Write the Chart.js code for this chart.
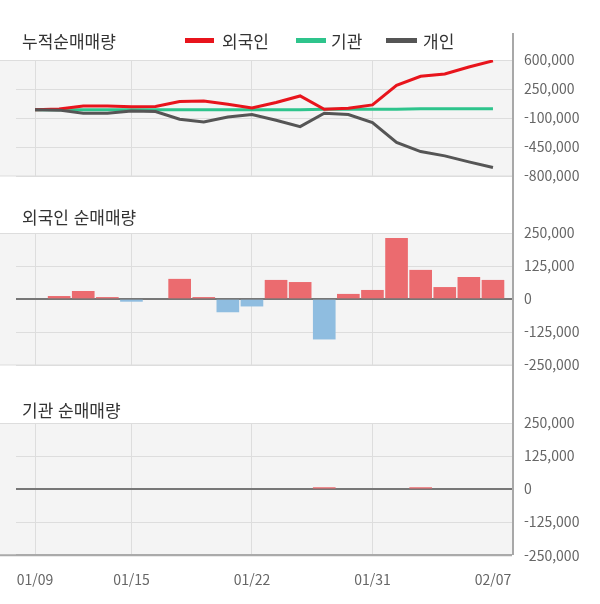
<!DOCTYPE html>
<html lang="ko">
<head>
<meta charset="utf-8">
<title>순매매량</title>
<script src="https://cdn.jsdelivr.net/npm/chart.js@4"></script>
<style>
  body { margin: 0; background: #fff; }
  #wrap { position: relative; width: 600px; height: 604px; overflow: hidden;
          font-family: 'Noto Sans CJK KR', 'Noto Sans', sans-serif; color: #333; }
  .box { position: absolute; left: 0; width: 600px; }
  .title { position: absolute; left: 22px; font-size: 17px; line-height: 20px; white-space: nowrap; }
  .lg { position: absolute; top: 31px; font-size: 17px; line-height: 20px; white-space: nowrap; }
  .sw { position: absolute; top: 38px; height: 5px; }
  #axisLine { position: absolute; left: 512px; top: 33px; width: 2px; height: 522px; background: #a8a8a8; }
</style>
</head>
<body>
<div id="wrap">
  <div class="box" style="top:0;height:200px"><canvas id="cumChart" width="600" height="200"></canvas></div>
  <div class="box" style="top:200px;height:186px"><canvas id="foreignChart" width="600" height="186"></canvas></div>
  <div class="box" style="top:380px;height:224px"><canvas id="instChart" width="600" height="224"></canvas></div>

  <div class="title" style="top:31px">누적순매매량</div>
  <div class="sw" style="left:185px;width:29px;background:#e8141c"></div>
  <div class="lg" style="left:222px">외국인</div>
  <div class="sw" style="left:296px;width:30px;background:#2ec48c"></div>
  <div class="lg" style="left:331px">기관</div>
  <div class="sw" style="left:386px;width:31px;background:#555"></div>
  <div class="lg" style="left:423px">개인</div>

  <div class="title" style="top:207px">외국인 순매매량</div>
  <div class="title" style="top:400px">기관 순매매량</div>
  <div id="axisLine"></div>
</div>

<script>
/* ================================
   Data
================================ */
const dates = ['01/09', '01/10', '01/13', '01/14', '01/15', '01/16', '01/17', '01/20', '01/21', '01/22',
               '01/23', '01/28', '01/29', '01/30', '01/31', '02/03', '02/04', '02/05', '02/06', '02/07'];
const dateTicks = [0, 4, 9, 14, 19];

// cumulative net buying (top panel)
const foreignCum = [0, 8000, 44000, 46000, 36000, 40000, 98000, 106000, 66000, 20000,
                    88000, 166000, 5000, 18000, 58000, 295000, 403000, 431000, 516000, 590000];
const instCum = [0, 0, 0, 0, 0, 0, 0, 0, 0, 0,
                 0, 0, 6000, 6000, 6000, 6000, 12000, 12000, 12000, 12000];
const indivCum = [0, -5000, -42000, -42000, -15000, -21000, -115000, -147000, -87000, -59000,
                  -127000, -204000, -42000, -58000, -155000, -396000, -505000, -557000, -630000, -698000];

// daily net buying
const foreignDaily = [0, 10000, 29000, 6000, -9000, 0, 75000, 6000, -49000, -27000,
                      71000, 63000, -152000, 18000, 33000, 230000, 109000, 44000, 82000, 71000];
const instDaily = [0, 0, 0, 0, 0, 0, 0, 0, 0, 0,
                   0, 0, 6000, 0, 0, 0, 6000, 0, 0, 0];

const cumTicks = [-800000, -450000, -100000, 250000, 600000];
const dailyTicks = [-250000, -125000, 0, 125000, 250000];

/* ================================
   Shared bits
================================ */
const FONT = "'Noto Sans CJK KR', 'Noto Sans', sans-serif";
const GRID = '#dddddd';
const BG = '#f4f4f4';

const panelBg = {
  id: 'panelBg',
  beforeDraw(chart, args, opts) {
    const { ctx, chartArea: a } = chart;
    ctx.save();
    ctx.fillStyle = BG;
    ctx.fillRect(0, a.top, a.right, a.bottom - a.top);
    ctx.strokeStyle = GRID;
    ctx.lineWidth = 1;
    ctx.beginPath();
    ctx.moveTo(0, a.top + 0.5);
    ctx.lineTo(a.right, a.top + 0.5);
    ctx.stroke();
    ctx.strokeStyle = opts.bottomColor || GRID;
    ctx.lineWidth = opts.bottomWidth || 1;
    ctx.beginPath();
    ctx.moveTo(0, a.bottom);
    ctx.lineTo(a.right, a.bottom);
    ctx.stroke();
    ctx.restore();
  }
};

function xScale(showLabels) {
  return {
    type: 'linear',
    min: -0.79,
    max: 19.79,
    offset: false,
    afterBuildTicks: s => { s.ticks = dateTicks.map(v => ({ value: v })); },
    grid: {
      offset: false,
      drawTicks: false,
      color: c => (c.tick && c.tick.value === 19) ? 'rgba(0,0,0,0)' : GRID
    },
    border: { display: false },
    ticks: {
      display: showLabels,
      padding: 16,
      color: '#666',
      font: { family: FONT, size: 14 },
      callback: v => dates[v]
    }
  };
}

function yScale(ticks, bottomColor) {
  return {
    position: 'right',
    min: ticks[0],
    max: ticks[ticks.length - 1],
    afterBuildTicks: s => { s.ticks = ticks.map(v => ({ value: v })); },
    afterFit: s => { s.width = 88; },
    grid: {
      drawTicks: false,
      color: c => {
        if (!c.tick) return GRID;
        if (c.tick.value === 0) return '#777';
        if (c.tick.value === ticks[0]) return bottomColor;
        return GRID;
      },
      lineWidth: c => (c.tick && (c.tick.value === 0 || (c.tick.value === ticks[0] && bottomColor !== GRID))) ? 2 : 1
    },
    border: { display: false },
    ticks: {
      padding: 12,
      color: '#666',
      font: { family: FONT, size: 14 },
      callback: v => v.toLocaleString('en-US')
    }
  };
}

const basePlugins = {
  legend: { display: false },
  tooltip: { enabled: false }
};

const pts = arr => arr.map((v, i) => ({ x: i, y: v }));

/* ================================
   Top: cumulative lines
================================ */
new Chart(document.getElementById('cumChart'), {
  type: 'line',
  data: {
    datasets: [
      { label: '개인', data: pts(indivCum), borderColor: '#555555', borderWidth: 3, pointRadius: 0, order: 0 },
      { label: '외국인', data: pts(foreignCum), borderColor: '#e8141c', borderWidth: 3, pointRadius: 0, order: 1 },
      { label: '기관', data: pts(instCum), borderColor: '#2ec48c', borderWidth: 3, pointRadius: 0, order: 2 }
    ]
  },
  options: {
    responsive: false,
    animation: false,
    layout: { padding: { top: 60, bottom: 24, left: 16, right: 0 } },
    scales: { x: xScale(false), y: yScale(cumTicks, GRID) },
    plugins: Object.assign({ panelBg: {} }, basePlugins)
  },
  plugins: [panelBg]
});

/* ================================
   Middle / bottom: daily bars
================================ */
function barColor(c) {
  const v = c.parsed ? c.parsed.y : 0;
  if (!v) return 'rgba(0,0,0,0)';   // nothing to draw for zero days
  return v < 0 ? '#8fbde0' : '#eb6b6f';
}

function barChart(id, values, padTop, padBottom, showLabels, bottomColor) {
  return new Chart(document.getElementById(id), {
    type: 'bar',
    data: {
      datasets: [{
        data: pts(values),
        barThickness: 22,
        backgroundColor: barColor
      }]
    },
    options: {
      responsive: false,
      animation: false,
      layout: { padding: { top: padTop, bottom: padBottom, left: 16, right: 0 } },
      scales: { x: xScale(showLabels), y: yScale(dailyTicks, bottomColor) },
      plugins: Object.assign({ panelBg: { bottomColor: bottomColor, bottomWidth: bottomColor === GRID ? 1 : 2 } }, basePlugins)
    },
    plugins: [panelBg]
  });
}

barChart('foreignChart', foreignDaily, 33, 21, false, GRID);
barChart('instChart', instDaily, 43, 0, true, '#aaaaaa');
</script>
</body>
</html>
